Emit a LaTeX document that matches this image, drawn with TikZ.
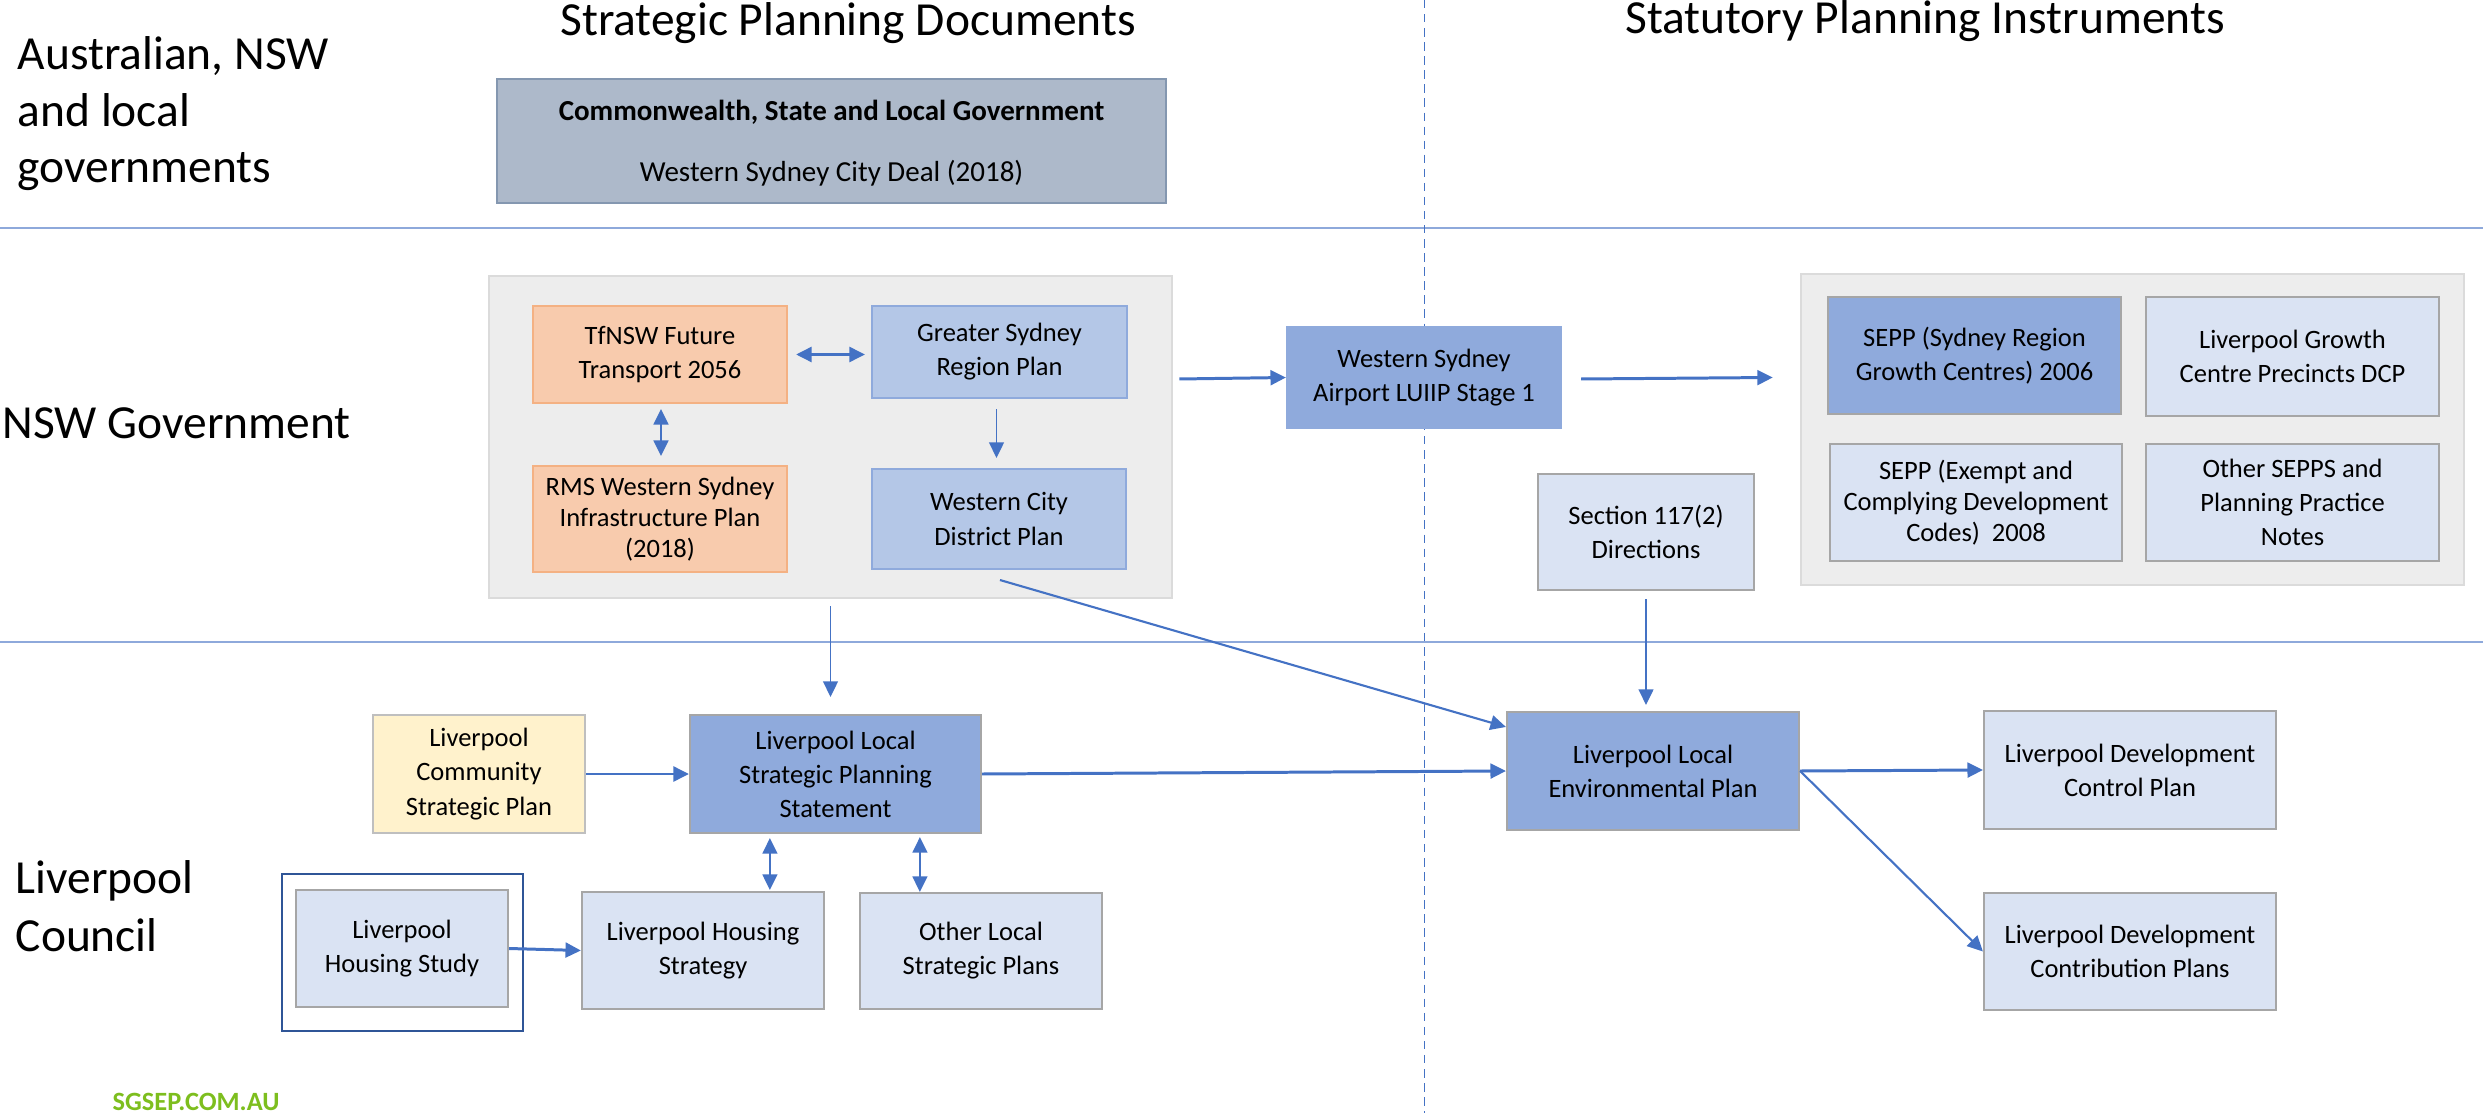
\documentclass[tikz,border=0pt]{standalone}
\usepackage{fontspec}
\setmainfont{Carlito}
\usetikzlibrary{arrows.meta,calc}
\definecolor{arrblue}{HTML}{4472C4}
\definecolor{sepblue}{HTML}{8EA9DB}
\definecolor{cwfill}{HTML}{ADB9CA}
\definecolor{cwdraw}{HTML}{8497B0}
\definecolor{grfill}{HTML}{EDEDED}
\definecolor{grdraw}{HTML}{DBDBDB}
\definecolor{orfill}{HTML}{F8CBAD}
\definecolor{ordraw}{HTML}{F4B183}
\definecolor{lbfill}{HTML}{B4C7E7}
\definecolor{mbfill}{HTML}{8FAADC}
\definecolor{pbfill}{HTML}{DAE3F3}
\definecolor{bxgray}{HTML}{A6A6A6}
\definecolor{ylfill}{HTML}{FFF2CC}
\definecolor{yldraw}{HTML}{BFBFBF}
\definecolor{framedraw}{HTML}{2F5597}
\definecolor{sggreen}{HTML}{7DBE1E}
\begin{document}
\begin{tikzpicture}[x=0.01cm,y=-0.01cm,
  box/.style={draw, line width=0.57pt, inner sep=0pt, align=center,
    font=\fontsize{7.54}{9.7}\selectfont},
  tight/.style={font=\fontsize{7.54}{8.9}\selectfont},
  orbox/.style={box, fill=orfill, draw=ordraw},
  lbbox/.style={box, fill=lbfill, draw=mbfill},
  mbbox/.style={box, fill=mbfill, draw=bxgray},
  pbbox/.style={box, fill=pbfill, draw=bxgray},
  container/.style={draw=grdraw, fill=grfill, line width=0.6pt, inner sep=0pt},
  biglabel/.style={inner sep=0pt, anchor=base west, font=\fontsize{13.5}{15.6}\selectfont},
  title/.style={inner sep=0pt, anchor=base, font=\fontsize{13.5}{15.6}\selectfont},
  conn/.style={draw=arrblue, -{Triangle[length=4.4pt,width=4.2pt]}},
  biconn/.style={draw=arrblue, {Triangle[length=4.4pt,width=4.2pt]}-{Triangle[length=4.4pt,width=4.2pt]}},
  thk/.style={line width=0.85pt},
  med/.style={line width=0.6pt},
  thn/.style={line width=0.42pt},
  sep/.style={draw=sepblue, line width=0.6pt}
]
\useasboundingbox (0,0) rectangle (2483,1113);
\clip (0,0) rectangle (2483,1113);

% separators
\draw[sep] (0,228) -- (2483,228);
\draw[sep] (0,642) -- (2483,642);
\draw[draw=arrblue, line width=0.3pt, dash pattern=on 2.4pt off 1.6pt] (1424,0) -- (1424,1113);

% titles and row labels
\node[title] (t1) at (848,36) {Strategic Planning Documents};
\node[title] (t2) at (1925,34) {Statutory Planning Instruments};
\node[biglabel] (l1a) at (17,70) {Australian, NSW};
\node[biglabel] (l1b) at (17,127) {and local};
\node[biglabel] (l1c) at (17,183) {governments};
\node[biglabel] (l2) at (2,439) {NSW Government};
\node[biglabel] (l3a) at (15,893) {Liverpool};
\node[biglabel] (l3b) at (15,951) {Council};

% Commonwealth box
\node[draw=cwdraw, fill=cwfill, line width=0.6pt, minimum width=6.69cm, minimum height=1.24cm, inner sep=0pt] (cw) at (831.5,141) {};
\node[inner sep=0pt, anchor=base, font=\fontsize{8.25}{10}\selectfont\bfseries] (cwa) at (831.5,121) {Commonwealth, State and Local Government};
\node[inner sep=0pt, anchor=base, font=\fontsize{8.25}{10}\selectfont] (cwb) at (831.5,182) {Western Sydney City Deal (2018)};

% NSW container
\node[container, minimum width=6.83cm, minimum height=3.22cm] (ng) at (830.5,437) {};
\node[orbox, minimum width=2.54cm, minimum height=0.97cm] (tf) at (660,354.5) {TfNSW Future\\Transport 2056};
\node[lbbox, minimum width=2.55cm, minimum height=0.92cm] (gs) at (999.5,352) {Greater Sydney\\Region Plan};
\node[orbox, tight, minimum width=2.54cm, minimum height=1.06cm] (rms) at (660,519) {RMS Western Sydney\\Infrastructure Plan\\(2018)};
\node[lbbox, minimum width=2.54cm, minimum height=1.00cm] (wc) at (999,519) {Western City\\District Plan};

% Airport
\node[box, fill=mbfill, draw=mbfill, minimum width=2.74cm, minimum height=1.01cm] (ap) at (1424,377.5) {Western Sydney\\Airport LUIIP Stage 1};

% SEPP container
\node[container, minimum width=6.63cm, minimum height=3.11cm] (sg) at (2132.5,429.5) {};
\node[mbbox, minimum width=2.93cm, minimum height=1.17cm] (sepa) at (1974.5,355.5) {SEPP (Sydney Region\\Growth Centres) 2006};
\node[pbbox, minimum width=2.93cm, minimum height=1.19cm] (lgc) at (2292.5,356.5) {Liverpool Growth\\Centre Precincts DCP};
\node[pbbox, tight, minimum width=2.92cm, minimum height=1.17cm] (sepb) at (1976,502.5) {SEPP (Exempt and\\Complying Development\\Codes)~ 2008};
\node[pbbox, minimum width=2.93cm, minimum height=1.17cm] (oth) at (2292.5,502.5) {Other SEPPS and\\Planning Practice\\Notes};

\node[pbbox, minimum width=2.16cm, minimum height=1.16cm] (s117) at (1646,532) {Section 117(2)\\Directions};

% Liverpool Council row
\node[box, fill=ylfill, draw=yldraw, minimum width=2.12cm, minimum height=1.18cm] (comm) at (479,774) {Liverpool\\Community\\Strategic Plan};
\node[mbbox, minimum width=2.91cm, minimum height=1.18cm] (lsps) at (835.5,774) {Liverpool Local\\Strategic Planning\\Statement};
\node[draw=framedraw, line width=0.75pt, minimum width=2.41cm, minimum height=1.57cm, inner sep=0pt] (frame) at (402.5,952.5) {};
\node[pbbox, minimum width=2.12cm, minimum height=1.17cm] (hs) at (402,948.5) {Liverpool\\Housing Study};
\node[pbbox, minimum width=2.42cm, minimum height=1.17cm] (hst) at (703,950.5) {Liverpool Housing\\Strategy};
\node[pbbox, minimum width=2.42cm, minimum height=1.16cm] (ols) at (981,951) {Other Local\\Strategic Plans};

\node[mbbox, minimum width=2.92cm, minimum height=1.18cm] (lep) at (1653,771) {Liverpool Local\\Environmental Plan};
\node[pbbox, minimum width=2.92cm, minimum height=1.18cm] (dcp) at (2130,770) {Liverpool Development\\Control Plan};
\node[pbbox, minimum width=2.92cm, minimum height=1.17cm] (dcon) at (2130,951.5) {Liverpool Development\\Contribution Plans};

\node[inner sep=0pt, anchor=base west, text=sggreen, font=\fontsize{7.5}{9}\selectfont\bfseries] (sgs) at (112,1110) {SGSEP.COM.AU};

% connectors
\draw[biconn, thk] ($(tf.east)+(8,0)$) -- ($(tf.east -| gs.west)+(-6,0)$);
\draw[biconn, med] ($(tf.south)+(1,5)$) -- ($(tf.south |- rms.north)+(1,-9)$);
\draw[conn, thn] ($(gs.south)+(-3,10)$) -- ($(gs.south |- wc.north)+(-3,-10)$);
\draw[conn, thk] ($(ng.east |- ap.west)+(6,1.5)$) -- (ap.west);
\draw[conn, thk] ($(ap.east)+(19,1.5)$) -- ($(sg.west |- ap.east)+(-27,0)$);
\draw[conn, thn] ($(ng.south)+(0,7)$) -- ($(ng.south |- lsps.north)+(0,-17)$);
\draw[conn, med] ($(wc.south)+(1,10)$) -- ($(lep.north west)+(0,16)$);
\draw[conn, thn] ($(s117.south)+(0,8)$) -- ($(s117.south |- lep.north)+(0,-6)$);
\draw[conn, thk] (comm.east) -- (lsps.west);
\draw[conn, thk] (lsps.east) -- (lep.west);
\draw[biconn, med] ($(lsps.south west)+(81,4)$) -- ($(lsps.south west |- hst.north)+(81,-1)$);
\draw[biconn, med] ($(lsps.south west)+(231,3)$) -- ($(lsps.south west |- ols.north)+(231,0)$);
\draw[conn, thk] (hs.east) -- (hst.west);
\draw[conn, thk] (lep.east) -- (dcp.west);
\draw[conn, med] (lep.east) -- (dcon.west);
\end{tikzpicture}
\end{document}
